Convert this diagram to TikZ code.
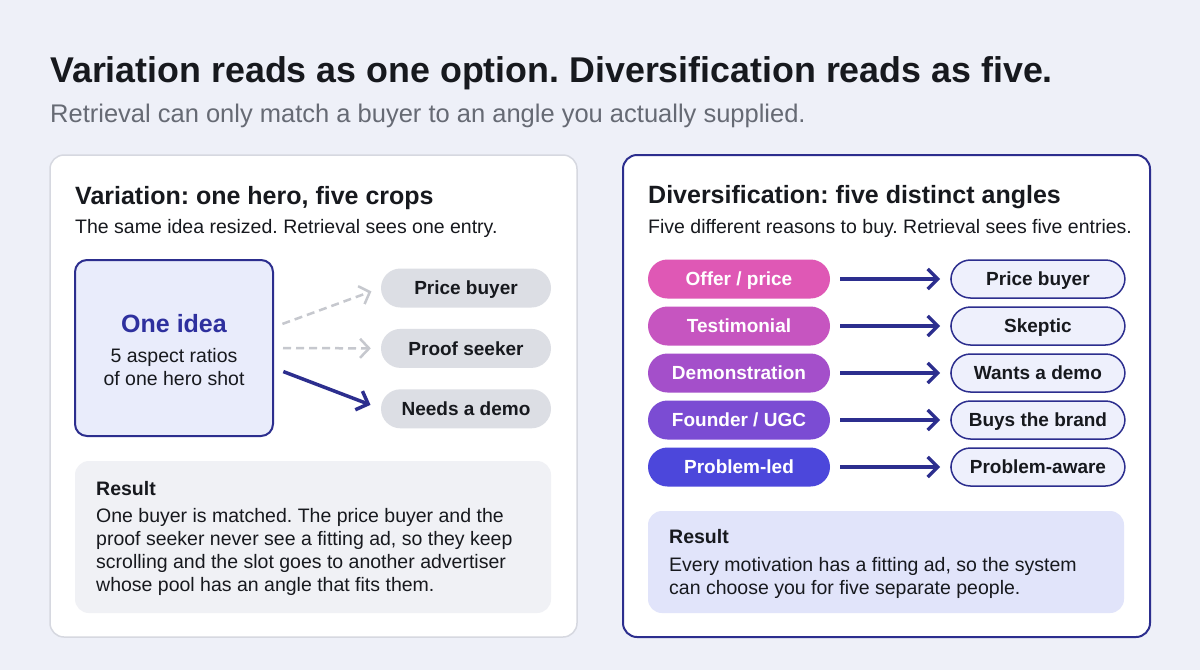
\documentclass[tikz,border=0pt]{standalone}
\usepackage{fontspec}
\setmainfont{Liberation Sans}
\usetikzlibrary{arrows.meta, positioning}
\frenchspacing

\definecolor{pagebg}{HTML}{EEF0F8}
\definecolor{ink}{HTML}{17191E}
\definecolor{inkgrey}{HTML}{666A74}
\definecolor{panelline}{HTML}{D6D8E0}
\definecolor{indigo}{HTML}{2C2E8E}
\definecolor{ideablue}{HTML}{2E309E}
\definecolor{ideafill}{HTML}{E9ECFB}
\definecolor{pillgrey}{HTML}{DCDEE4}
\definecolor{dashgrey}{HTML}{C6C8CE}
\definecolor{resultgrey}{HTML}{F0F1F5}
\definecolor{resultblue}{HTML}{E1E4FA}
\definecolor{targetfill}{HTML}{EEF0FC}
\definecolor{angA}{HTML}{DF58B5}
\definecolor{angB}{HTML}{C655C0}
\definecolor{angC}{HTML}{A44FCA}
\definecolor{angD}{HTML}{7B4CD3}
\definecolor{angE}{HTML}{4C47DB}

\begin{document}
\begin{tikzpicture}[
        x=1pt, y=-1pt,
        every node/.style={inner sep=0pt, text=ink},
        headline/.style={anchor=base west, font=\bfseries\fontsize{35.8}{40}\selectfont},
        subline/.style={anchor=base west, font=\fontsize{25.5}{30}\selectfont, text=inkgrey},
        paneltitle/.style={anchor=base west, font=\bfseries\fontsize{25}{30}\selectfont},
        panelnote/.style={anchor=base west, font=\fontsize{19.5}{24}\selectfont},
        panel/.style={rectangle, draw=panelline, fill=white, line width=1.5pt, rounded corners=14pt, minimum width=527pt, minimum height=482pt},
        ideabox/.style={rectangle, draw=indigo, fill=ideafill, line width=2pt, rounded corners=12pt, minimum width=198pt, minimum height=176pt},
        pilltext/.style={text height=13.6pt, text depth=0pt, font=\bfseries\fontsize{19}{23}\selectfont},
        buyerpill/.style={rectangle, fill=pillgrey, rounded corners=19.5pt, minimum width=170pt, minimum height=39pt, pilltext},
        anglepill/.style={rectangle, rounded corners=19.5pt, minimum width=182pt, minimum height=39pt, text=white, pilltext},
        targetpill/.style={rectangle, draw=indigo, fill=targetfill, line width=1.5pt, rounded corners=19.5pt, minimum width=174pt, minimum height=38pt, pilltext},
        resultbox/.style={rectangle, rounded corners=14pt, minimum width=476pt},
        resultlabel/.style={anchor=base west, font=\bfseries\fontsize{19.5}{23}\selectfont},
        body/.style={anchor=base west, font=\fontsize{19.5}{23}\selectfont},
        faintarrow/.style={-{Straight Barb[length=9pt, width=19pt]}, draw=dashgrey, line width=2.5pt, dash pattern=on 8pt off 5pt, shorten <=9pt, shorten >=10pt},
        goarrow/.style={-{Straight Barb[length=10pt, width=20pt]}, draw=indigo, line width=3.5pt, shorten <=10pt, shorten >=10pt}
    ]
        \useasboundingbox[fill=pagebg] (0,0) rectangle (1200,670);

        % Heading
        \node[headline] (headline) at (50,82) {Variation reads as one option. Diversification reads as five.};
        \node[subline] (subline) at (50,122) {Retrieval can only match a buyer to an angle you actually supplied.};

        % Left panel: variation
        \node[panel] (varpanel) at (313.5,396) {};
        \node[paneltitle] (vartitle) at (75,204) {Variation: one hero, five crops};
        \node[panelnote] (varnote) at (75,233) {The same idea resized. Retrieval sees one entry.};

        \node[ideabox] (idea) at (174,348) {};
        \node[anchor=base, font=\bfseries\fontsize{25}{30}\selectfont, text=ideablue] (ideaname) at (174,332) {One idea};
        \node[anchor=base, font=\fontsize{19.5}{23}\selectfont] (ideanote) at (174,362) {\parbox[t]{190pt}{\centering 5 aspect ratios\\of one hero shot}};

        \node[buyerpill] (pp1) at (466,288) {Price buyer};
        \node[buyerpill, below=21pt of pp1] (pp2) {Proof seeker};
        \node[buyerpill, below=21pt of pp2] (pp3) {Needs a demo};

        \draw[faintarrow] ([yshift=21pt]idea.east) -- (pp1.west);
        \draw[faintarrow] (idea.east) -- (pp2.west);
        \draw[goarrow, shorten <=10pt, shorten >=11pt] ([yshift=-20pt]idea.east) -- (pp3.west);

        \node[resultbox, fill=resultgrey, minimum height=152pt] (varresultbox) at (313,537) {};
        \node[resultlabel] (varresult) at (96,495) {Result};
        \node[body] (varbody) at (96,522) {\parbox[t]{450pt}{\raggedright One buyer is matched. The price buyer and the\\proof seeker never see a fitting ad, so they keep\\scrolling and the slot goes to another advertiser\\whose pool has an angle that fits them.}};

        % Right panel: diversification
        \node[panel, draw=indigo, line width=2pt] (divpanel) at (886.5,396) {};
        \node[paneltitle] (divtitle) at (648,203) {Diversification: five distinct angles};
        \node[panelnote] (divnote) at (648,233) {Five different reasons to buy. Retrieval sees five entries.};

        \foreach \ang/\who/\col [count=\i] in {{Offer / price}/{Price buyer}/angA, {Testimonial}/{Skeptic}/angB, {Demonstration}/{Wants a demo}/angC, {Founder / UGC}/{Buys the brand}/angD, {Problem-led}/{Problem-aware}/angE}{
            \node[anglepill, fill=\col] (ang\i) at (739,{279+47*(\i-1)}) {\ang};
            \node[targetpill, right=120pt of ang\i] (tgt\i) {\who};
            \draw[goarrow] (ang\i) -- (tgt\i);
        }

        \node[resultbox, fill=resultblue, minimum height=102pt] (divresultbox) at (886,562) {};
        \node[resultlabel] (divresult) at (669,543) {Result};
        \node[body] (divbody) at (669,571) {\parbox[t]{450pt}{\raggedright Every motivation has a fitting ad, so the system\\can choose you for five separate people.}};

    \end{tikzpicture}
\end{document}
